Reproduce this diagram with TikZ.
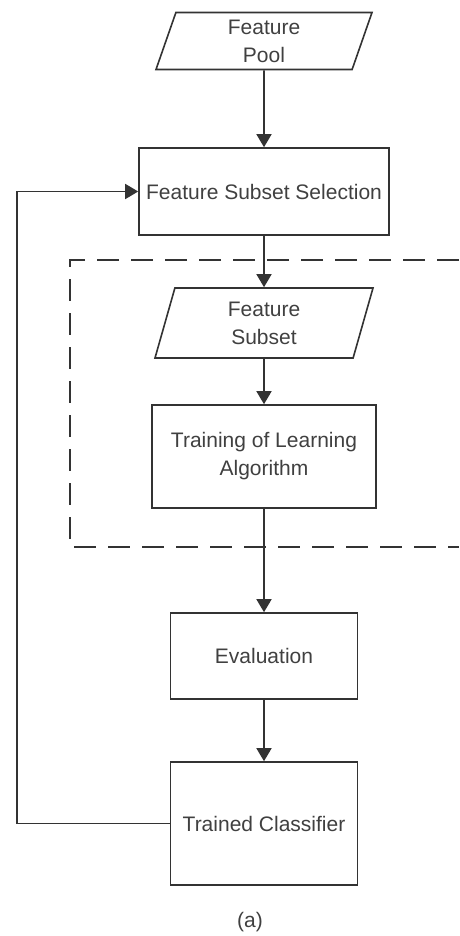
\documentclass[tikz,border=0pt]{standalone}
\usepackage{fontspec}
\setmainfont{Liberation Sans}
\usetikzlibrary{arrows.meta,shapes.geometric,positioning}

\begin{document}
\begin{tikzpicture}[x=1pt,y=-1pt,line width=1.6pt,
  every node/.style={font=\fontsize{21}{28}\selectfont,text=black!75},
  box/.style={draw=black!80,rectangle,align=center,inner sep=0pt},
  data/.style={draw=black!80,trapezium,trapezium left angle=65,trapezium right angle=115,
    trapezium stretches body,align=center,inner sep=0pt},
  arr/.style={draw=black!80,-{Triangle[width=15pt,length=13pt]}}]
\useasboundingbox (0,0) rectangle (459,936);
\node[data,minimum width=216pt,minimum height=57pt] (pool) at (264,41) {Feature\\Pool};
\node[box,minimum width=250pt,minimum height=87pt] (sel) at (264,191.5) {Feature Subset Selection};
\node[data,minimum width=218pt,minimum height=70pt] (sub) at (264,323) {Feature\\Subset};
\node[box,minimum width=224pt,minimum height=103pt] (train) at (264,456.5) {Training of Learning\\Algorithm};
\node[box,minimum width=187pt,minimum height=86pt] (eval) at (264,656) {Evaluation};
\node[box,minimum width=187pt,minimum height=123pt] (clf) at (264,823.5) {Trained Classifier};
\node (cap) at (250,922) {(a)};
\draw[dashed,draw=black!80,dash pattern=on 22pt off 12pt] (459,260) -- (70,260) -- (70,547) -- (459,547);
\coordinate (back) at (17,823.5);
\draw[arr] (pool.south) -- (sel.north);
\draw[arr] (sel.south) -- (sub.north);
\draw[arr] (sub.south) -- (train.north);
\draw[arr] (train.south) -- (eval.north);
\draw[arr] (eval.south) -- (clf.north);
\draw[arr] (clf.west) -- (back) |- (sel.west);
\end{tikzpicture}
\end{document}
